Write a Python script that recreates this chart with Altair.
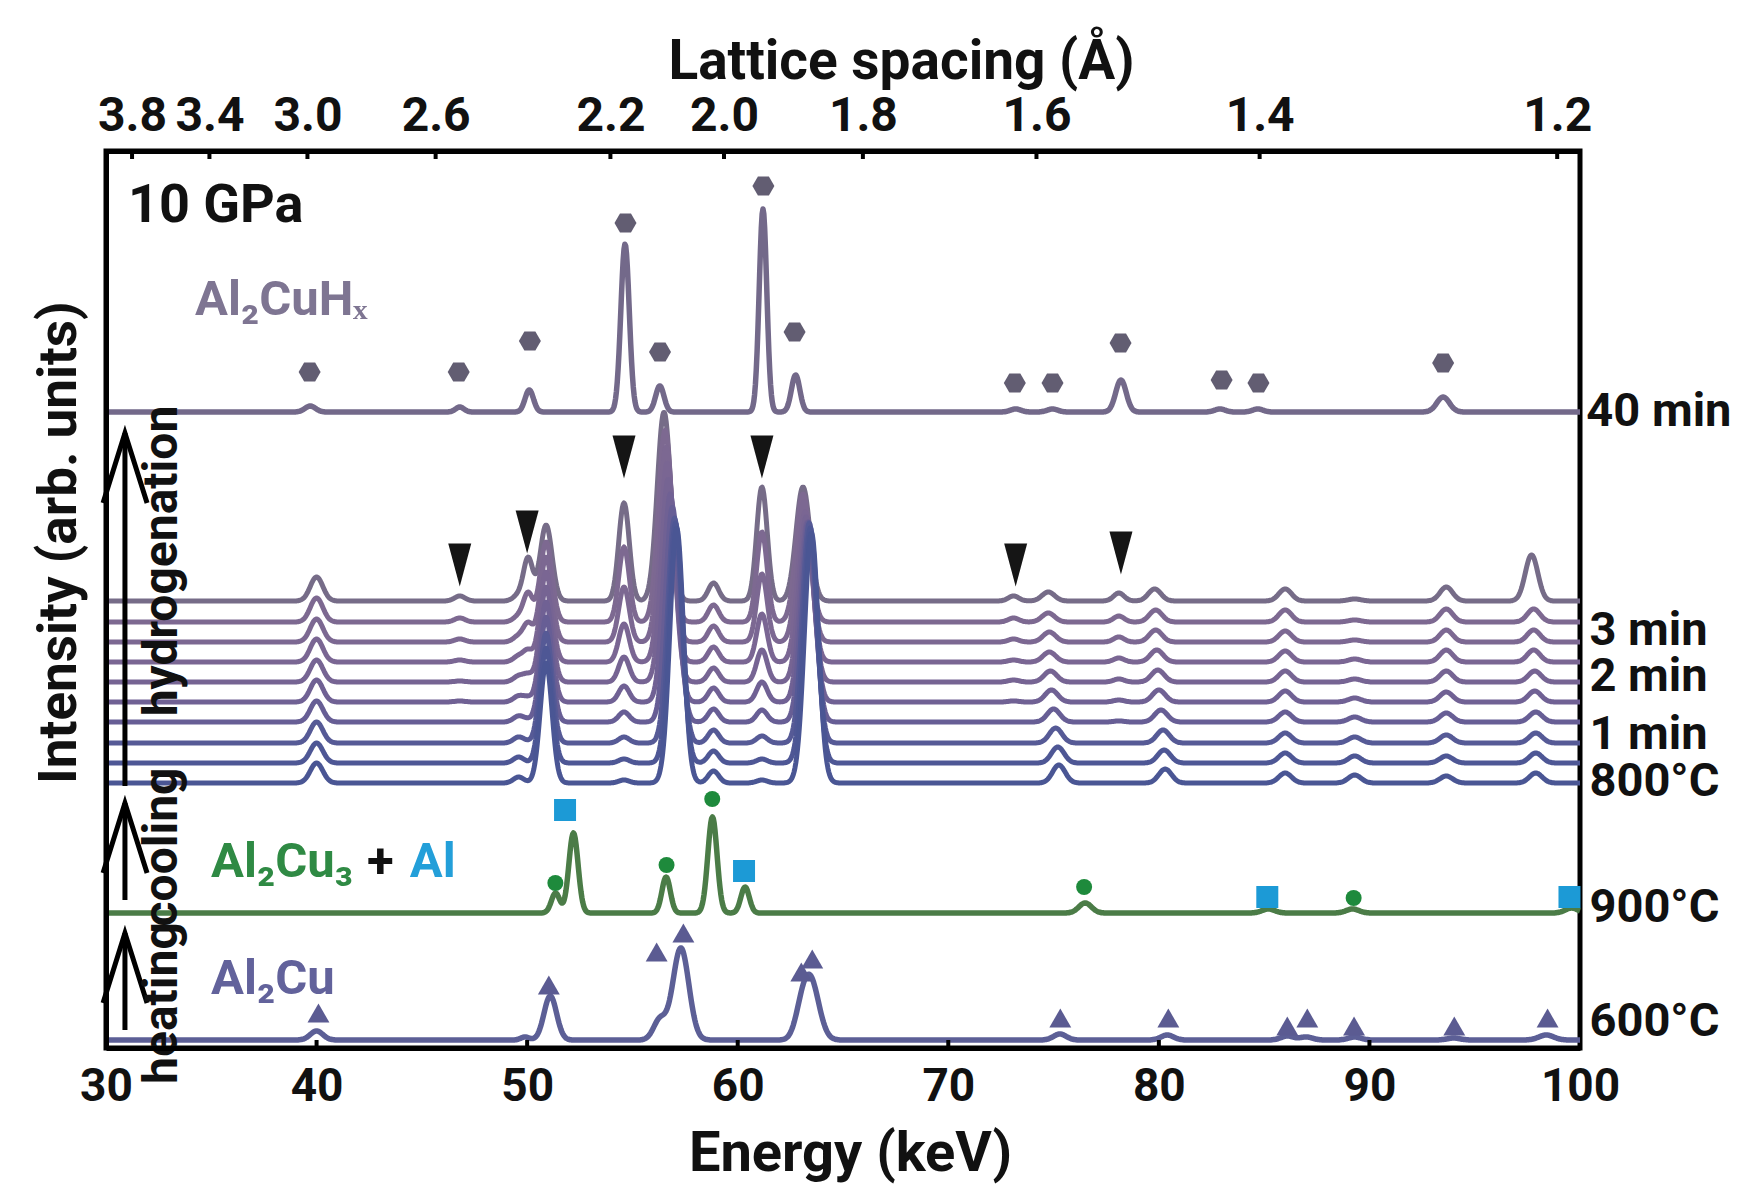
import numpy as np
import pandas as pd
import altair as alt

alt.data_transformers.disable_max_rows()

FONT = "Roboto"

# ---------------- axes ----------------
energy_ticks = [30, 40, 50, 60, 70, 80, 90, 100]
inner_ticks_bottom = [40, 50, 60, 70, 80, 90]
d_spacing_ticks = [3.8, 3.4, 3.0, 2.6, 2.2, 2.0, 1.8, 1.6, 1.4, 1.2]
E_TIMES_D = 118.7  # keV * Angstrom (fixed-angle EDXRD)

# ---------------- 40 min : Al2CuHx ----------------
h40_base = 636
h40_center = [39.7, 46.8, 50.1, 54.65, 56.3, 61.2, 62.75, 73.2, 74.95, 78.2, 82.9, 84.7, 93.5]
h40_amp = [6, 5, 22, 168, 26, 203, 37, 3, 3, 32, 3, 3, 15]
h40_sigma = [0.25, 0.2, 0.2, 0.2, 0.2, 0.18, 0.2, 0.25, 0.25, 0.25, 0.25, 0.25, 0.3]

# ---------------- 800C -> hydrogenation stack (10 scans, bottom to top) ----------------
stack_base = [265, 285, 305, 326, 346, 366, 386, 406, 426, 447]
stack_color = ["#4a5694", "#4e5795", "#565a96", "#675e95", "#706194",
               "#766493", "#7a6693", "#7c6892", "#7d6991", "#766c88"]
stack_peak_center = [
    [40.0] * 10,
    [46.8] * 10,
    [49.6] * 10,
    [50.05] * 10,
    [50.9] * 10,
    [54.6] * 10,
    [57.1, 57.05, 57.0, 56.9, 56.8, 56.7, 56.65, 56.6, 56.55, 56.5],
    [58.85] * 10,
    [61.15] * 10,
    [63.5, 63.45, 63.4, 63.35, 63.3, 63.25, 63.2, 63.15, 63.1, 63.1],
    [73.1] * 10,
    [75.25, 75.2, 75.1, 75.0, 74.9, 74.85, 74.8, 74.8, 74.75, 74.75],
    [78.1] * 10,
    [80.3, 80.25, 80.2, 80.1, 80.0, 79.95, 79.9, 79.85, 79.85, 79.8],
    [86.0] * 10,
    [89.3] * 10,
    [93.65] * 10,
    [97.9, 97.9, 97.9, 97.9, 97.85, 97.85, 97.8, 97.8, 97.8, 97.7],
]
stack_peak_amp = [
    [20, 20, 21, 21, 22, 22, 23, 23, 24, 24],
    [0, 0, 0, 0, 1, 1, 2, 3, 4, 5],
    [6, 6, 6, 6, 6, 6, 6, 6, 6, 6],
    [0, 0, 1, 2, 4, 7, 11, 18, 28, 42],
    [120, 115, 110, 105, 100, 95, 90, 85, 80, 76],
    [3, 4, 6, 10, 16, 25, 38, 55, 75, 98],
    [255, 240, 225, 215, 208, 203, 199, 195, 192, 189],
    [12, 12, 13, 13, 14, 14, 15, 16, 17, 18],
    [3, 4, 7, 12, 20, 32, 48, 68, 90, 114],
    [250, 235, 220, 200, 180, 165, 150, 140, 128, 114],
    [0, 0, 0, 0, 1, 2, 2, 3, 4, 5],
    [18, 16, 15, 13, 12, 11, 10, 10, 9, 9],
    [0, 0, 0, 1, 2, 3, 4, 5, 6, 8],
    [14, 13, 13, 12, 12, 12, 12, 12, 12, 12],
    [10, 10, 10, 10, 11, 11, 11, 11, 12, 12],
    [8, 7, 6, 5, 4, 3, 3, 2, 2, 2],
    [7, 7, 8, 9, 10, 11, 12, 12, 13, 14],
    [10, 10, 10, 10, 11, 11, 12, 12, 13, 46],
]
stack_peak_sigma = [0.3, 0.25, 0.25, 0.22, 0.28, 0.25, 0.32, 0.25, 0.25, 0.33,
                    0.25, 0.3, 0.25, 0.3, 0.3, 0.3, 0.3, 0.3]

# ---------------- 900C : Al2Cu3 + Al ----------------
h900_base = 135
h900_center = [51.35, 52.2, 56.6, 58.8, 60.35, 76.5, 85.2, 89.2, 99.6]
h900_amp = [20, 80, 36, 96, 26, 10, 4, 4, 5]
h900_sigma = [0.2, 0.22, 0.2, 0.22, 0.2, 0.3, 0.3, 0.3, 0.3]

# ---------------- 600C : Al2Cu ----------------
h600_base = 8
h600_center = [40.0, 49.9, 51.1, 56.3, 57.3, 63.0, 63.45, 75.3, 80.4, 86.1, 87.0, 89.3, 94.0, 98.4]
h600_amp = [9, 3, 44, 20, 92, 15, 60, 6, 5, 4, 3, 3, 2, 5]
h600_sigma = [0.3, 0.2, 0.3, 0.3, 0.38, 0.3, 0.4, 0.3, 0.3, 0.3, 0.3, 0.3, 0.3, 0.35]

# ---------------- phase markers ----------------
hex_E = [39.67, 46.75, 50.13, 54.67, 56.31, 61.22, 62.7, 73.16, 74.95, 78.18, 82.98, 84.73, 93.5]
hex_y = [676, 676, 707, 825, 696, 862, 716, 665, 665, 705, 668, 665, 685]
arrow_E = [46.8, 50.0, 54.6, 61.15, 73.2, 78.2]
arrow_y = [483, 516, 591, 591, 483, 495]
al_E = [51.8, 60.3, 85.15, 99.5]
al_y = [238, 177, 151, 151]
al2cu3_E = [51.34, 56.62, 58.79, 76.45, 89.25]
al2cu3_y = [165, 183, 249, 161, 150]
al2cu_E = [40.09, 51.03, 56.15, 57.42, 63.02, 63.54, 75.32, 80.45, 86.1, 87.05, 89.27, 94.03, 98.46]
al2cu_y = [35, 63, 96, 115, 76, 89, 30, 30, 22, 30, 22, 22, 30]

# ---------------- labels ----------------
label_text = ["10 GPa", "Al\u2082CuH\u2093", "Al\u2082Cu\u2083", "+", "Al", "Al\u2082Cu",
              "40 min", "3 min", "2 min", "1 min", "800\u00b0C", "900\u00b0C", "600\u00b0C"]
label_E = [31.04, 34.23, 34.99, 42.4, 44.43, 34.99,
           100.3, 100.45, 100.45, 100.45, 100.45, 100.45, 100.45]
label_y = [842, 748, 186, 186, 186, 69, 636, 417, 371, 313, 266, 140, 26]
label_color = ["#111111", "#7e7592", "#2f8a44", "#111111", "#239fd9", "#62629b",
               "#111111", "#111111", "#111111", "#111111", "#111111", "#111111", "#111111"]
label_size = [54, 49, 49, 49, 49, 49, 47, 47, 47, 47, 47, 47, 47]

process_text = ["hydrogenation", "cooling", "heating"]
process_E = [33.37, 33.37, 33.37]
process_y = [487, 201, 45]
process_arrow_E = 30.90
process_arrow_tip = [615, 245, 115]
process_arrow_bottom = [262, 148, 18]
process_arrow_wing = [545, 175, 45]
wing_half = [1.04, 1.05]

# ================= build tables =================
grid = np.round(np.arange(30.0, 100.0001, 0.04), 2)


def pattern(base, centers, amps, sigmas):
    y = np.full(grid.shape, float(base))
    for c, a, s in zip(centers, amps, sigmas):
        y += a * np.exp(-0.5 * ((grid - c) / s) ** 2)
    return np.round(y, 1)


frames = []
curve_specs = []  # (id, color, width) in draw order
frames.append(pd.DataFrame({"E": grid, "I": pattern(h40_base, h40_center, h40_amp, h40_sigma), "curve": "h40"}))
curve_specs.append(("h40", "#73698a", 5.5))
for i in reversed(range(10)):
    cs = [pc[i] for pc in stack_peak_center]
    am = [pa[i] for pa in stack_peak_amp]
    frames.append(pd.DataFrame({"E": grid, "I": pattern(stack_base[i], cs, am, stack_peak_sigma), "curve": f"s{i}"}))
    curve_specs.append((f"s{i}", stack_color[i], 5))
frames.append(pd.DataFrame({"E": grid, "I": pattern(h900_base, h900_center, h900_amp, h900_sigma), "curve": "h900"}))
curve_specs.append(("h900", "#4b7c47", 5.5))
frames.append(pd.DataFrame({"E": grid, "I": pattern(h600_base, h600_center, h600_amp, h600_sigma), "curve": "h600"}))
curve_specs.append(("h600", "#5c5f96", 5.5))
curves_df = pd.concat(frames, ignore_index=True)

HEX = "M-1,0L-0.5,-0.866L0.5,-0.866L1,0L0.5,0.866L-0.5,0.866Z"
DOWN = "M-0.535,-1L0.535,-1L0,1Z"
markers = []
for e, y in zip(hex_E, hex_y):
    markers.append({"E": e, "y": y, "shp": HEX, "col": "#625d72", "sz": 484})
for e, y in zip(arrow_E, arrow_y):
    markers.append({"E": e, "y": y, "shp": DOWN, "col": "#151515", "sz": 1849})
for e, y in zip(al_E, al_y):
    markers.append({"E": e, "y": y, "shp": "square", "col": "#1c9ad6", "sz": 484})
for e, y in zip(al2cu3_E, al2cu3_y):
    markers.append({"E": e, "y": y, "shp": "circle", "col": "#1e8a3c", "sz": 256})
for e, y in zip(al2cu_E, al2cu_y):
    markers.append({"E": e, "y": y, "shp": "triangle-up", "col": "#5b5b92", "sz": 480})
markers_df = pd.DataFrame(markers)

labels_df = pd.DataFrame({"E": label_E, "y": label_y, "text": label_text,
                          "col": label_color, "fs": label_size})
process_df = pd.DataFrame({"E": process_E, "y": process_y, "text": process_text})

arrow_rows = []
for k in range(3):
    tip, bot, wing = process_arrow_tip[k], process_arrow_bottom[k], process_arrow_wing[k]
    arrow_rows += [
        {"seg": f"a{k}s", "o": 0, "E": process_arrow_E, "y": bot},
        {"seg": f"a{k}s", "o": 1, "E": process_arrow_E, "y": tip},
        {"seg": f"a{k}h", "o": 0, "E": process_arrow_E - wing_half[0], "y": wing},
        {"seg": f"a{k}h", "o": 1, "E": process_arrow_E, "y": tip},
        {"seg": f"a{k}h", "o": 2, "E": process_arrow_E + wing_half[1], "y": wing},
    ]
arrows_df = pd.DataFrame(arrow_rows)

bottom_ticks_df = pd.DataFrame({"E": inner_ticks_bottom, "y0": 0, "y1": 8})
top_ticks_df = pd.DataFrame({"E": [E_TIMES_D / d for d in d_spacing_ticks], "y0": 889, "y1": 897})

# ================= chart =================
xs = alt.Scale(domain=[30, 100], nice=False, zero=False)
ys = alt.Scale(domain=[0, 897], nice=False, zero=False)

bottom_axis = alt.Axis(
    orient="bottom", values=energy_ticks, ticks=False, tickSize=0, grid=False,
    labelFont=FONT, labelFontSize=46, labelFontWeight="bold", labelColor="#111111",
    labelPadding=16, labelFlush=False, labelOverlap=False,
    domainColor="black", domainWidth=5, zindex=1,
    title="Energy (keV)", titleFont=FONT, titleFontSize=56, titleFontWeight="bold",
    titleColor="#111111", titleX=744, titleY=122, titleBaseline="alphabetic", titleAlign="center",
)
top_axis = alt.Axis(
    orient="top", values=[E_TIMES_D / d for d in d_spacing_ticks],
    labelExpr=f"format({E_TIMES_D}/datum.value, '.1f')",
    ticks=False, tickSize=0, grid=False,
    labelFont=FONT, labelFontSize=48, labelFontWeight="bold", labelColor="#111111",
    labelPadding=21, labelBaseline="alphabetic", labelFlush=False, labelOverlap=False,
    domainColor="black", domainWidth=5, zindex=1,
    title="Lattice spacing (\u00c5)", titleFont=FONT, titleFontSize=55, titleFontWeight="bold",
    titleColor="#111111", titleX=795, titleY=-73, titleBaseline="alphabetic", titleAlign="center",
)
left_axis = alt.Axis(
    orient="left", labels=False, ticks=False, tickSize=0, grid=False,
    domainColor="black", domainWidth=5, zindex=1,
    title="Intensity (arb. units)", titleFont=FONT, titleFontSize=53, titleFontWeight="bold",
    titleColor="#111111", titleAngle=270, titleX=-31, titleY=391,
    titleBaseline="alphabetic", titleAlign="center",
)


def X():
    return alt.X("E:Q", scale=xs, axis=None)


def Y(field):
    return alt.Y(field, scale=ys, axis=left_axis)


layers = []
for cid, col, w in curve_specs:
    layers.append(
        alt.Chart(curves_df).transform_filter(alt.datum.curve == cid)
        .mark_line(color=col, strokeWidth=w, strokeJoin="round")
        .encode(x=X(), y=Y("I:Q"))
    )

layers.append(
    alt.Chart(markers_df).mark_point(filled=True, opacity=1, strokeWidth=0).encode(
        x=X(), y=Y("y:Q"),
        shape=alt.Shape("shp:N", scale=None), color=alt.Color("col:N", scale=None),
        size=alt.Size("sz:Q", scale=None),
    )
)

layers.append(
    alt.Chart(arrows_df).mark_line(color="black", strokeWidth=5, strokeJoin="miter").encode(
        x=X(), y=Y("y:Q"), detail="seg:N", order="o:Q",
    )
)

layers.append(
    alt.Chart(labels_df).mark_text(align="left", baseline="middle", font=FONT, fontWeight="bold").encode(
        x=X(), y=Y("y:Q"),
        text="text:N", color=alt.Color("col:N", scale=None), size=alt.Size("fs:Q", scale=None),
    )
)

layers.append(
    alt.Chart(process_df).mark_text(align="center", baseline="alphabetic", angle=270, font=FONT,
                                    fontWeight="bold", fontSize=48, color="#111111").encode(
        x=X(), y=Y("y:Q"), text="text:N",
    )
)

layers.append(
    alt.Chart(bottom_ticks_df).mark_rule(color="black", strokeWidth=4).encode(
        x=alt.X("E:Q", scale=xs, axis=bottom_axis),
        y=Y("y0:Q"), y2="y1:Q",
    )
)
layers.append(
    alt.Chart(top_ticks_df).mark_rule(color="black", strokeWidth=4).encode(
        x=alt.X("E:Q", scale=xs, axis=top_axis),
        y=Y("y0:Q"), y2="y1:Q",
    )
)

chart = (
    alt.layer(*layers)
    .resolve_axis(x="independent")
    .properties(width=1474, height=897,
                autosize=alt.AutoSizeParams(type="none"),
                padding={"left": 98, "top": 143, "right": 157, "bottom": 141},
                background="white")
    .configure_view(stroke="black", strokeWidth=5)
)

chart.save("out.html", embed_options={"renderer": "svg", "actions": False})
